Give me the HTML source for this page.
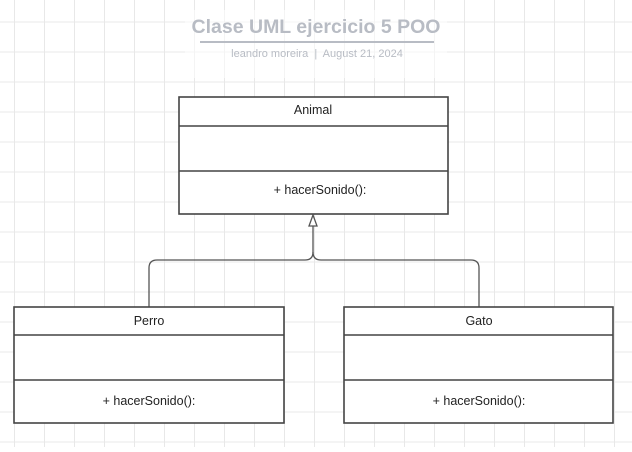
<!DOCTYPE html>
<html><head><style>
body{margin:0;width:632px;height:447px;overflow:hidden;background:#fff;font-family:"Liberation Sans",sans-serif}
</style></head><body>
<svg width="632" height="447" viewBox="0 0 632 447" xmlns="http://www.w3.org/2000/svg">
<defs><pattern id="g" x="14" y="21.5" width="30" height="30" patternUnits="userSpaceOnUse"><path d="M0 0.5H30M0.5 0V30" stroke="#e8e8e8" stroke-width="1" fill="none"/></pattern></defs>
<rect width="632" height="447" fill="url(#g)"/>
<rect x="185" y="10" width="262" height="68" fill="#fff" opacity="0.5"/>
<text x="316" y="33" text-anchor="middle" font-size="19.5" font-weight="bold" fill="#b8bcc4">Clase UML ejercicio 5 POO</text>
<line x1="200" y1="42" x2="434" y2="42" stroke="#b8bcc4" stroke-width="2"/>
<text x="317" y="57" text-anchor="middle" font-size="11" fill="#b8bcc4" xml:space="preserve">leandro moreira  |  August 21, 2024</text>
<g fill="none" stroke="#555" stroke-width="1.3">
<path d="M149 307V268Q149 260 157 260H305Q313 260 313 252V226"/>
<path d="M479 307V268Q479 260 471 260H321Q313 260 313 252"/>
<path d="M313 215L309 226H317Z" fill="#fff"/>
</g>
<g fill="#fff" stroke="#444" stroke-width="1.6">
<rect x="179" y="97" width="269" height="117"/><line x1="179" y1="126" x2="448" y2="126"/><line x1="179" y1="171" x2="448" y2="171"/>
<rect x="14" y="307" width="270" height="116"/><line x1="14" y1="335" x2="284" y2="335"/><line x1="14" y1="380" x2="284" y2="380"/>
<rect x="344" y="307" width="269" height="116"/><line x1="344" y1="335" x2="613" y2="335"/><line x1="344" y1="380" x2="613" y2="380"/>
</g>
<g font-size="12.5" fill="#222" text-anchor="middle">
<text x="313" y="114">Animal</text><text x="320" y="194">+ hacerSonido():</text>
<text x="149" y="325">Perro</text><text x="149" y="405">+ hacerSonido():</text>
<text x="479" y="325">Gato</text><text x="479" y="405">+ hacerSonido():</text>
</g>
</svg>
</body></html>
